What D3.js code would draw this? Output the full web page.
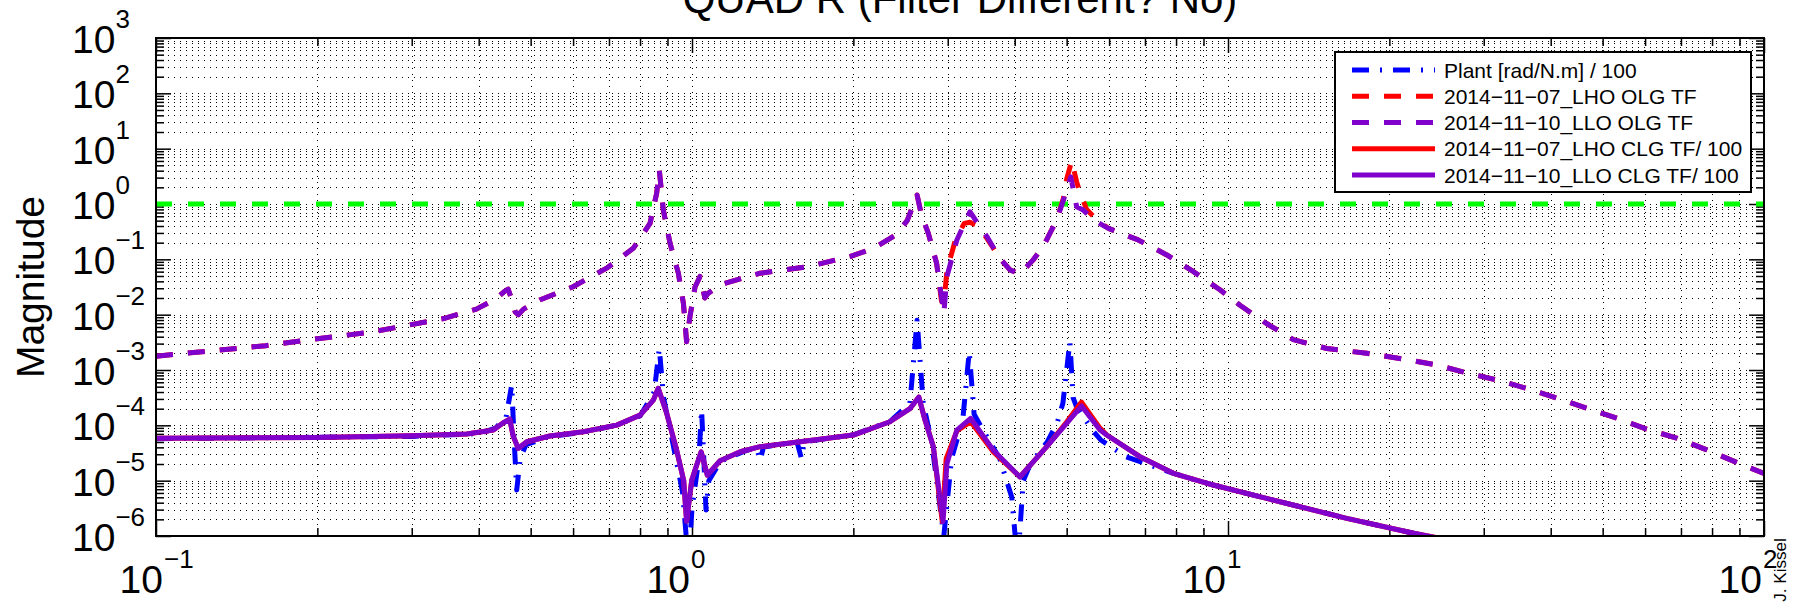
<!DOCTYPE html>
<html><head><meta charset="utf-8">
<script src="https://cdn.jsdelivr.net/npm/d3@7"></script>
<style>
body{margin:0;background:#fff;}
svg{display:block;}
text{font-family:"Liberation Sans",Arial,Helvetica,sans-serif;fill:#000;}
</style>
</head><body>
<svg id="c" width="1805" height="607"></svg>
<script>
// ---------------- data (frequency [Hz], magnitude) ----------------
const plant = [[0.1,5.75e-5],[0.3,6.31e-5],[0.40,7.08e-5],[0.43,8.91e-5],[0.45,1.41e-4],[0.461,5.37e-4],[0.466,5.01e-5],[0.471,6.76e-6],[0.478,2.51e-5],[0.49,4.47e-5],[0.54,6.17e-5],[0.63,7.59e-5],[0.72,1.0e-4],[0.80,1.48e-4],[0.85,3.98e-4],[0.869,2.45e-3],[0.885,3.16e-4],[0.92,5.01e-5],[0.96,6.31e-6],[0.985,3.16e-7],[1.00,3.16e-6],[1.03,2.51e-5],[1.042,1.91e-4],[1.052,2.51e-5],[1.062,2.95e-6],[1.075,1.0e-5],[1.13,2.24e-5],[1.25,3.39e-5],[1.32,3.98e-5],[1.34,2.34e-5],[1.36,4.07e-5],[1.57,5.01e-5],[1.60,2.51e-5],[1.62,5.01e-5],[2.0,6.76e-5],[2.34,1.17e-4],[2.55,2.51e-4],[2.63,7.94e-3],[2.70,2.51e-4],[2.80,5.01e-5],[2.95,1.0e-6],[3.05,2.51e-5],[3.20,1.26e-4],[3.29,2.14e-3],[3.36,1.58e-4],[3.45,1.0e-4],[3.75,2.51e-5],[3.95,5.01e-6],[4.05,3.16e-7],[4.15,1.0e-5],[4.28,2.0e-5],[4.60,5.01e-5],[4.80,1.10e-4],[4.92,2.51e-4],[5.07,3.24e-3],[5.14,3.16e-4],[5.22,2.14e-4],[5.60,7.94e-5],[5.80,5.37e-5],[6.46,2.69e-5],[7.46,1.66e-5],[7.91,1.35e-5],[9.39,8.32e-6],[12.5,4.17e-6],[16.65,2.09e-6],[22.2,1.12e-6],[28,6.31e-7]];

const lhoOlg = [[0.100,1.78e-3],[0.128,2.24e-3],[0.160,2.75e-3],[0.200,3.67e-3],[0.250,4.79e-3],[0.285,6.03e-3],[0.344,8.51e-3],[0.396,1.26e-2],[0.430,1.91e-2],[0.447,2.63e-2],[0.454,2.88e-2],[0.460,2.0e-2],[0.468,1.12e-2],[0.474,1.0e-2],[0.485,1.26e-2],[0.520,1.84e-2],[0.600,3.2e-2],[0.693,6.92e-2],[0.777,0.158],[0.835,0.447],[0.859,1.55],[0.869,4.07],[0.884,0.776],[0.910,0.195],[0.943,5.62e-2],[0.964,1.58e-2],[0.977,3.24e-3],[0.991,9.12e-3],[1.013,3.16e-2],[1.035,4.9e-2],[1.057,2.0e-2],[1.070,2.4e-2],[1.128,3.47e-2],[1.34,5.62e-2],[1.63,7.24e-2],[1.97,0.112],[2.18,0.158],[2.40,0.275],[2.52,0.501],[2.63,1.45],[2.68,0.631],[2.76,0.295],[2.86,8.51e-2],[2.92,1.78e-2],[2.95,1.58e-2],[2.99,6.31e-2],[3.10,0.224],[3.22,0.447],[3.30,0.468],[3.42,0.398],[3.55,0.24],[3.75,0.105],[3.92,6.46e-2],[4.09,5.43e-2],[4.33,9.77e-2],[4.52,0.17],[4.79,0.513],[4.93,1.26],[5.00,2.82],[5.11,6.03],[5.22,2.51],[5.30,1.58],[5.45,0.794],[5.70,0.513],[5.98,0.363],[6.80,0.224],[7.69,0.12],[8.61,6.03e-2],[9.66,2.82e-2],[10.53,1.48e-2],[11.80,6.92e-3],[13.24,3.55e-3],[15.28,2.45e-3],[18.15,2.0e-3],[21.5,1.55e-3],[24.5,1.23e-3],[28.1,8.71e-4],[32.7,6.17e-4],[37.7,4.07e-4],[43.5,2.57e-4],[54.2,1.26e-4],[60.4,8.51e-5],[68.7,5.89e-5],[77.6,3.72e-5],[88.9,2.14e-5],[100,1.35e-5]];

const lloOlg = [[0.100,1.78e-3],[0.128,2.24e-3],[0.160,2.75e-3],[0.200,3.67e-3],[0.250,4.79e-3],[0.285,6.03e-3],[0.344,8.51e-3],[0.396,1.26e-2],[0.430,1.91e-2],[0.447,2.63e-2],[0.454,2.88e-2],[0.460,2.0e-2],[0.468,1.12e-2],[0.474,1.0e-2],[0.485,1.26e-2],[0.520,1.84e-2],[0.600,3.2e-2],[0.693,6.92e-2],[0.777,0.158],[0.835,0.447],[0.859,1.55],[0.869,4.07],[0.884,0.776],[0.910,0.195],[0.943,5.62e-2],[0.964,1.58e-2],[0.977,3.24e-3],[0.991,9.12e-3],[1.013,3.16e-2],[1.035,4.9e-2],[1.057,2.0e-2],[1.070,2.4e-2],[1.128,3.47e-2],[1.34,5.62e-2],[1.63,7.24e-2],[1.97,0.112],[2.18,0.158],[2.40,0.275],[2.52,0.501],[2.63,1.45],[2.68,0.631],[2.76,0.295],[2.86,8.51e-2],[2.95,1.05e-2],[2.99,4.9e-2],[3.12,0.224],[3.30,0.724],[3.55,0.257],[3.75,0.105],[3.92,6.46e-2],[4.09,5.43e-2],[4.33,9.77e-2],[4.52,0.17],[4.79,0.513],[4.93,1.17],[5.09,3.09],[5.22,0.891],[5.37,0.776],[5.61,0.513],[5.98,0.363],[6.80,0.224],[7.69,0.12],[8.61,6.03e-2],[9.66,2.82e-2],[10.53,1.48e-2],[11.80,6.92e-3],[13.24,3.55e-3],[15.28,2.45e-3],[18.15,2.0e-3],[21.5,1.55e-3],[24.5,1.23e-3],[28.1,8.71e-4],[32.7,6.17e-4],[37.7,4.07e-4],[43.5,2.57e-4],[54.2,1.26e-4],[60.4,8.51e-5],[68.7,5.89e-5],[77.6,3.72e-5],[88.9,2.14e-5],[100,1.35e-5]];

const lhoClg = [[0.1,5.85e-5],[0.2,6.03e-5],[0.3,6.46e-5],[0.38,6.97e-5],[0.426,8.22e-5],[0.444,1.10e-4],[0.457,1.29e-4],[0.464,6.31e-5],[0.474,3.84e-5],[0.492,5.06e-5],[0.543,6.41e-5],[0.627,7.67e-5],[0.724,1.01e-4],[0.80,1.53e-4],[0.847,2.86e-4],[0.865,4.68e-4],[0.897,1.65e-4],[0.936,3.58e-5],[0.965,1.0e-5],[0.977,1.86e-6],[0.999,1.03e-5],[1.04,3.33e-5],[1.068,1.26e-5],[1.128,2.29e-5],[1.23,3.33e-5],[1.34,4.11e-5],[1.59,5.06e-5],[2.0,6.68e-5],[2.34,1.16e-4],[2.55,2.0e-4],[2.65,3.24e-4],[2.72,1.26e-4],[2.82,4.11e-5],[2.93,1.82e-6],[2.98,2.51e-5],[3.12,7.94e-5],[3.31,1.17e-4],[3.65,3.31e-5],[4.09,1.17e-5],[4.59,4.11e-5],[5.0,1.15e-4],[5.33,2.63e-4],[5.77,8.91e-5],[5.94,6.68e-5],[6.85,2.71e-5],[7.91,1.36e-5],[9.39,8.34e-6],[12.5,4.16e-6],[16.65,2.08e-6],[22.2,1.12e-6],[24.5,9.33e-7],[28,6.31e-7]];

const lloClg = [[0.1,5.85e-5],[0.2,6.03e-5],[0.3,6.46e-5],[0.38,6.97e-5],[0.426,8.22e-5],[0.444,1.10e-4],[0.457,1.29e-4],[0.464,6.31e-5],[0.474,3.84e-5],[0.492,5.06e-5],[0.543,6.41e-5],[0.627,7.67e-5],[0.724,1.01e-4],[0.80,1.53e-4],[0.847,2.86e-4],[0.865,4.68e-4],[0.897,1.65e-4],[0.936,3.58e-5],[0.965,1.0e-5],[0.977,1.86e-6],[0.999,1.03e-5],[1.04,3.33e-5],[1.068,1.26e-5],[1.128,2.29e-5],[1.23,3.33e-5],[1.34,4.11e-5],[1.59,5.06e-5],[2.0,6.68e-5],[2.34,1.16e-4],[2.55,2.0e-4],[2.65,3.24e-4],[2.72,1.26e-4],[2.82,4.11e-5],[2.94,1.82e-6],[2.99,2.04e-5],[3.12,8.22e-5],[3.31,1.34e-4],[3.65,3.55e-5],[4.09,1.17e-5],[4.59,4.11e-5],[5.0,1.09e-4],[5.33,2.24e-4],[5.77,8.22e-5],[5.94,6.68e-5],[6.85,2.71e-5],[7.91,1.36e-5],[9.39,8.34e-6],[12.5,4.16e-6],[16.65,2.08e-6],[22.2,1.12e-6],[24.5,9.33e-7],[28,6.31e-7]];

const unityLine = [[0.1,1],[100,1]];

const xTickExps = [-1,0,1,2];
const yTickExps = [-6,-5,-4,-3,-2,-1,0,1,2,3];
const legendLabels = ["Plant [rad/N.m] / 100","2014\u221211\u221207_LHO OLG TF","2014\u221211\u221210_LLO OLG TF","2014\u221211\u221207_LHO CLG TF/ 100","2014\u221211\u221210_LLO CLG TF/ 100"];
const titleText = "QUAD R (Filter Different? No)";
const yLabelText = "Magnitude";
const authorText = "J. Kissel";

// ---------------- layout ----------------
const L=156, R=1764, T=38, B=536;
const BLUE="#0000ff", RED="#ff0000", PURPLE="#8000cc", GREEN="#00ff00";
const DASH="17,15", DASHDOT="17,11,2,11";
const svg = d3.select("#c");
const x = d3.scaleLog().domain([0.1,100]).range([L,R]);
const y = d3.scaleLog().domain([1e-6,1e3]).range([B,T]);

svg.append("rect").attr("width",1805).attr("height",607).attr("fill","#fff");

// grid
const xt = x.ticks(), yt = y.ticks();
const isMajor = v => Math.abs(Math.log10(v)-Math.round(Math.log10(v)))<1e-9;
const grid = svg.append("g").attr("stroke","#000").attr("stroke-width",1).attr("stroke-dasharray","1,5");
grid.selectAll("line.gx").data(xt.filter(v=>v>0.1&&v<100)).join("line")
  .attr("x1",d=>Math.round(x(d))+0.5).attr("x2",d=>Math.round(x(d))+0.5).attr("y1",T).attr("y2",B);
grid.selectAll("line.gy").data(yt.filter(v=>v>1e-6&&v<1e3)).join("line")
  .attr("y1",d=>Math.round(y(d))+0.5).attr("y2",d=>Math.round(y(d))+0.5).attr("x1",L).attr("x2",R);

// ticks via d3 axes (inside)
function addAxis(axisFn, scale, vals, size, tr){
  svg.append("g").attr("transform",tr)
    .call(axisFn(scale).tickValues(vals).tickSize(size).tickFormat(""))
    .call(g=>{g.select(".domain").remove(); g.selectAll("line").attr("stroke","#000").attr("stroke-width",1.5);});
}
const xMaj = xt.filter(isMajor), xMin = xt.filter(v=>!isMajor(v));
const yMaj = yt.filter(isMajor), yMin = yt.filter(v=>!isMajor(v));
addAxis(d3.axisBottom,x,xMaj,-15,`translate(0,${B})`);
addAxis(d3.axisBottom,x,xMin,-8,`translate(0,${B})`);
addAxis(d3.axisTop,x,xMaj,-15,`translate(0,${T})`);
addAxis(d3.axisTop,x,xMin,-8,`translate(0,${T})`);
addAxis(d3.axisLeft,y,yMaj,-15,`translate(${L},0)`);
addAxis(d3.axisLeft,y,yMin,-8,`translate(${L},0)`);
addAxis(d3.axisRight,y,yMaj,-15,`translate(${R},0)`);
addAxis(d3.axisRight,y,yMin,-8,`translate(${R},0)`);

// data
svg.append("clipPath").attr("id","clip").append("rect").attr("x",L).attr("y",T).attr("width",R-L).attr("height",B-T);
const line = d3.line().x(d=>x(d[0])).y(d=>y(d[1]));
const plotG = svg.append("g").attr("clip-path","url(#clip)").attr("fill","none").attr("stroke-linejoin","round");
function draw(data,color,dash,w,offset){
  plotG.append("path").datum(data).attr("d",line).attr("stroke",color).attr("stroke-width",w)
    .attr("stroke-dasharray",dash||null).attr("stroke-dashoffset",offset||0).attr("stroke-linecap","butt");
}
// dashed series drawn in chunks whose dash phase follows a reference series where both coincide
function drawSynced(data, ref, color, dash, w){
  const px = d=>[x(d[0]),y(d[1])];
  const refCum = new Map(); let c=0;
  ref.forEach((d,i)=>{ if(i>0){const a=px(ref[i-1]),b=px(d); c+=Math.hypot(b[0]-a[0],b[1]-a[1]);} refCum.set(d[0]+"|"+d[1],c); });
  const same = d=>refCum.has(d[0]+"|"+d[1]);
  let start=0, phase=0, run=0;
  for(let i=1;i<=data.length;i++){
    const boundary = i===data.length || (same(data[i]) && !same(data[i-1]));
    if(boundary){
      const chunk=data.slice(start, i===data.length? i : i+1);
      const ph = same(data[start]) ? refCum.get(data[start][0]+"|"+data[start][1]) : phase;
      draw(chunk,color,dash,w,ph);
      start=i;
    }
  }
}
draw(unityLine,GREEN,"16,16",5);
draw(plant,BLUE,DASHDOT,5);
drawSynced(lhoOlg,lloOlg,RED,DASH,5);
draw(lloOlg,PURPLE,DASH,5);
draw(lhoClg,RED,null,5);
draw(lloClg,PURPLE,null,5);

// box
svg.append("rect").attr("x",L).attr("y",T).attr("width",R-L).attr("height",B-T)
  .attr("fill","none").attr("stroke","#000").attr("stroke-width",2);

// y tick labels
const expStr = e => (e<0?"\u2212":"")+Math.abs(e);
yTickExps.forEach(e=>{
  const ty = y(Math.pow(10,e));
  const t = svg.append("text").attr("x",72).attr("y",ty+15).attr("font-size",39);
  t.append("tspan").text("10");
  t.append("tspan").attr("dy",-25).attr("font-size",26).text(expStr(e));
});
// x tick labels
xTickExps.forEach(e=>{
  const tx = x(Math.pow(10,e));
  const endX = tx + (e<0?7:-2);
  svg.append("text").attr("x",endX).attr("y",593).attr("font-size",39).attr("text-anchor","end").text("10");
  svg.append("text").attr("x",endX+1).attr("y",568).attr("font-size",26).text(expStr(e));
});

// title & labels
svg.append("text").attr("x",(L+R)/2).attr("y",13).attr("text-anchor","middle").attr("font-size",42).text(titleText);
svg.append("text").attr("transform","translate(44,287) rotate(-90)").attr("text-anchor","middle").attr("font-size",39).text(yLabelText);
svg.append("text").attr("transform","translate(1786,570) rotate(-90)").attr("text-anchor","middle").attr("font-size",17).text(authorText);

// legend
const lg = svg.append("g");
lg.append("rect").attr("x",1335).attr("y",52).attr("width",416).attr("height",140).attr("fill","#fff").attr("stroke","#000").attr("stroke-width",2);
const legStyles = [[BLUE,DASHDOT],[RED,DASH],[PURPLE,DASH],[RED,null],[PURPLE,null]];
legendLabels.forEach((lab,i)=>{
  const cy = 70 + i*26.25;
  lg.append("line").attr("x1",1352).attr("x2",1435).attr("y1",cy).attr("y2",cy)
    .attr("stroke",legStyles[i][0]).attr("stroke-width",5).attr("stroke-dasharray",legStyles[i][1]);
  lg.append("text").attr("x",1444).attr("y",cy+7.5).attr("font-size",21).text(lab);
});
</script>
</body></html>
